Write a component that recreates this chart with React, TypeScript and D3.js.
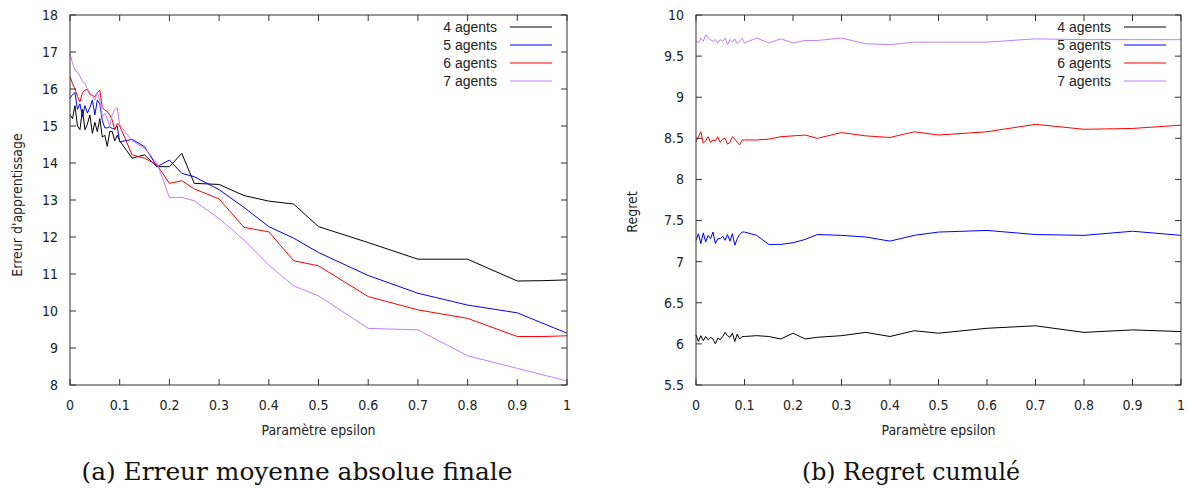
import React from "react";
import * as d3 from "d3";

// ---------- data ----------
const epsDense = [0, 0.005, 0.01, 0.015, 0.02, 0.025, 0.03, 0.035, 0.04, 0.045, 0.05, 0.055, 0.06, 0.065, 0.07, 0.075, 0.08, 0.085, 0.09, 0.095, 0.1];
const epsTailErr = [0.125, 0.15, 0.175, 0.2, 0.225, 0.25, 0.3, 0.35, 0.4, 0.45, 0.5, 0.6, 0.7, 0.8, 0.9, 0.95, 1];
const epsTailReg = [0.125, 0.15, 0.175, 0.2, 0.225, 0.25, 0.3, 0.35, 0.4, 0.45, 0.5, 0.6, 0.7, 0.8, 0.9, 1];

const agentLabels = ["4 agents", "5 agents", "6 agents", "7 agents"];
const agentColors = ["#000000", "#0000ff", "#ff0000", "#c080ff"];

// (a) Erreur d'apprentissage
const err4 = [15.3, 15.2, 15.55, 15.0, 14.9, 15.45, 14.9, 15.05, 15.3, 14.8, 15.1, 14.85, 15.2, 14.7, 14.75, 14.45, 14.85, 14.85, 14.6, 14.75, 14.6,
  14.13, 14.22, 13.9, 13.9, 14.26, 13.45, 13.42, 13.12, 12.97, 12.89, 12.28, 11.85, 11.4, 11.4, 10.81, 10.82, 10.84];
const err5 = [15.75, 15.85, 15.9, 15.45, 15.6, 15.25, 15.55, 15.35, 15.5, 15.7, 15.3, 15.7, 15.6, 15.15, 14.95, 14.95, 14.98, 14.93, 14.93, 15.0, 14.57,
  14.64, 14.44, 13.9, 14.08, 13.72, 13.63, 13.28, 12.8, 12.28, 11.97, 11.58, 10.96, 10.48, 10.16, 9.95, null, 9.4];
const err6 = [16.33, 16.15, 16.0, 15.8, 15.65, 15.9, 15.97, 15.99, 15.85, 15.83, 15.79, 15.9, 15.97, 15.5, 15.43, 15.39, 15.3, 15.16, 14.89, 15.07, 15.0,
  14.22, 14.13, 13.95, 13.45, 13.52, 13.3, 13.03, 12.26, 12.14, 11.36, 11.22, 10.39, 10.03, 9.8, 9.31, 9.31, 9.33];
const err7 = [16.96, 16.7, 16.51, 16.46, 16.35, 16.2, 16.15, 16.0, 15.88, 15.83, 15.7, 15.92, 15.7, 15.25, 15.34, 15.2, 15.0, 15.31, 15.45, 15.49, 15.04,
  14.6, 14.4, 14.0, 13.07, 13.07, 12.98, 12.5, 11.92, 11.24, 10.68, 10.41, 9.53, 9.49, 8.79, 8.45, null, 8.11];

// (b) Regret cumulé
const reg4 = [6.11, 6.03, 6.1, 6.04, 6.09, 6.05, 6.08, 6.06, 6.0, 6.07, 6.05, 6.09, 6.14, 6.1, 6.08, 6.13, 6.03, 6.12, 6.06, 6.09, 6.09,
  6.1, 6.09, 6.06, 6.13, 6.06, 6.08, 6.1, 6.14, 6.09, 6.16, 6.13, 6.19, 6.22, 6.14, 6.17, 6.15];
const reg5 = [7.26, 7.34, 7.22, 7.35, 7.24, 7.32, 7.28, 7.36, 7.22, 7.28, 7.28, 7.31, 7.26, 7.33, 7.25, 7.34, 7.2, 7.28, 7.33, 7.36, 7.36,
  7.32, 7.21, 7.21, 7.23, 7.27, 7.33, 7.32, 7.3, 7.25, 7.32, 7.36, 7.38, 7.33, 7.32, 7.37, 7.32];
const reg6 = [8.46, 8.52, 8.58, 8.44, 8.47, 8.52, 8.45, 8.48, 8.47, 8.52, 8.45, 8.49, 8.5, 8.43, 8.45, 8.52, 8.49, 8.45, 8.42, 8.48, 8.48,
  8.48, 8.49, 8.52, 8.53, 8.54, 8.5, 8.57, 8.53, 8.51, 8.58, 8.54, 8.58, 8.67, 8.61, 8.62, 8.66];
const reg7 = [9.69, 9.66, 9.72, 9.68, 9.76, 9.72, 9.7, 9.68, 9.7, 9.66, 9.7, 9.68, 9.72, 9.64, 9.7, 9.67, 9.71, 9.65, 9.68, 9.72, 9.66,
  9.72, 9.66, 9.71, 9.66, 9.69, 9.69, 9.72, 9.65, 9.64, 9.67, 9.67, 9.67, 9.71, 9.7, 9.7, 9.7];

const xTicks = [0, 0.1, 0.2, 0.3, 0.4, 0.5, 0.6, 0.7, 0.8, 0.9, 1];
const errTicks = [8, 9, 10, 11, 12, 13, 14, 15, 16, 17, 18];
const regTicks = [5.5, 6, 6.5, 7, 7.5, 8, 8.5, 9, 9.5, 10];

const xTitle = "Paramètre epsilon";

const tickFont = "'Liberation Sans Narrow', 'DejaVu Sans Condensed', 'Liberation Sans', sans-serif";
const legendFont = "'Liberation Sans', Arial, sans-serif";
const captionFont = "'DejaVu Serif', 'Liberation Serif', serif";

type PanelProps = {
  left: number;
  right: number;
  top: number;
  bottom: number;
  xs: number[];
  series: (number | null)[][];
  yDomain: [number, number];
  yTicks: number[];
  yLabel: string;
  yLabelX: number;
  yLabelY: number;
};

function Panel(p: PanelProps) {
  const x = d3.scaleLinear().domain([0, 1]).range([p.left, p.right]);
  const y = d3.scaleLinear().domain(p.yDomain).range([p.bottom, p.top]);
  const line = d3
    .line<[number, number]>()
    .x((d) => x(d[0]))
    .y((d) => y(d[1]));
  const tl = 6;
  const border = "#333";
  const fmt = (v: number) => String(v);
  return (
    <g>
      {p.series.map((vals, i) => {
        const pts: [number, number][] = [];
        vals.forEach((v, k) => {
          if (v !== null && v !== undefined) pts.push([p.xs[k], v]);
        });
        return (
          <path key={i} d={line(pts) || ""} fill="none" stroke={agentColors[i]} strokeWidth={1} strokeLinejoin="miter" />
        );
      })}
      {xTicks.map((t) => (
        <g key={"xt" + t}>
          <line x1={x(t)} x2={x(t)} y1={p.bottom} y2={p.bottom - tl} stroke={border} />
          <line x1={x(t)} x2={x(t)} y1={p.top} y2={p.top + tl} stroke={border} />
          <text x={x(t)} y={p.bottom + 25} textAnchor="middle" fontFamily={tickFont} fontSize={14} fill="#222">
            {fmt(t)}
          </text>
        </g>
      ))}
      {p.yTicks.map((t) => (
        <g key={"yt" + t}>
          <line x1={p.left} x2={p.left + tl} y1={y(t)} y2={y(t)} stroke={border} />
          <line x1={p.right} x2={p.right - tl} y1={y(t)} y2={y(t)} stroke={border} />
          <text x={p.left - 12} y={y(t)} dy="0.35em" textAnchor="end" fontFamily={tickFont} fontSize={14} fill="#222">
            {fmt(t)}
          </text>
        </g>
      ))}
      <rect x={p.left} y={p.top} width={p.right - p.left} height={p.bottom - p.top} fill="none" stroke={border} strokeWidth={1} />
      {agentLabels.map((lab, i) => {
        const yy = p.top + 12 + i * 18;
        return (
          <g key={lab}>
            <text x={p.right - 70} y={yy} dy="0.35em" textAnchor="end" fontFamily={legendFont} fontSize={14} fill="#222">
              {lab}
            </text>
            <line x1={p.right - 57} x2={p.right - 15} y1={yy} y2={yy} stroke={agentColors[i]} strokeWidth={1} />
          </g>
        );
      })}
      <text x={(p.left + p.right) / 2} y={p.bottom + 50} textAnchor="middle" fontFamily={tickFont} fontSize={14} fill="#222">
        {xTitle}
      </text>
      <text
        transform={`translate(${p.yLabelX},${p.yLabelY}) rotate(-90)`}
        textAnchor="middle"
        fontFamily={tickFont}
        fontSize={14}
        fill="#222"
      >
        {p.yLabel}
      </text>
    </g>
  );
}

export default function App() {
  const errX = [...epsDense, ...epsTailErr];
  const regX = [...epsDense, ...epsTailReg];
  return (
    <svg width={1189} height={492} style={{ position: "absolute", left: 0, top: 0, background: "#fff" }}>
      <rect width={1189} height={492} fill="#fff" />
      <Panel
        left={70}
        right={567}
        top={15}
        bottom={385}
        xs={errX}
        series={[err4, err5, err6, err7]}
        yDomain={[8, 18]}
        yTicks={errTicks}
        yLabel="Erreur d'apprentissage"
        yLabelX={22}
        yLabelY={205}
      />
      <Panel
        left={696}
        right={1181}
        top={15}
        bottom={385}
        xs={regX}
        series={[reg4, reg5, reg6, reg7]}
        yDomain={[5.5, 10]}
        yTicks={regTicks}
        yLabel="Regret"
        yLabelX={637}
        yLabelY={212}
      />
      <text x={297} y={480} textAnchor="middle" fontFamily={captionFont} fontSize={24} fill="#111" textLength={431} lengthAdjust="spacingAndGlyphs">
        (a) Erreur moyenne absolue finale
      </text>
      <text x={911} y={480} textAnchor="middle" fontFamily={captionFont} fontSize={24} fill="#111" textLength={218} lengthAdjust="spacingAndGlyphs">
        (b) Regret cumulé
      </text>
    </svg>
  );
}
